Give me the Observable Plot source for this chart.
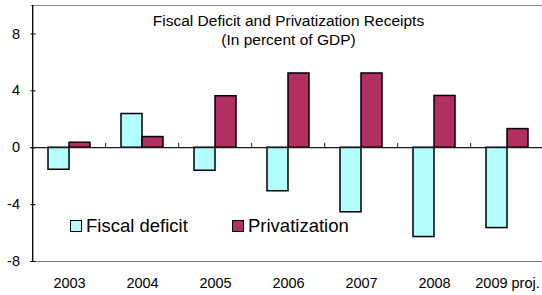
<!DOCTYPE html>
<html>
<head>
<meta charset="utf-8">
<script src="https://cdn.jsdelivr.net/npm/d3@7"></script>
<script src="https://cdn.jsdelivr.net/npm/@observablehq/plot@0.6"></script>
<style>
  html, body { margin: 0; padding: 0; background: #fff; }
  #wrap { position: relative; width: 542px; height: 295px; font-family: "Liberation Sans", Arial, sans-serif; color: #000; overflow: hidden; }
  #title { position: absolute; left: 0; width: 577px; top: 10.6px; text-align: center; font-size: 15.5px; line-height: 19.5px; white-space: nowrap; }
  #title div { display: block; }
  .leg { position: absolute; font-size: 18.5px; line-height: 22px; white-space: nowrap; }
  .sw { position: absolute; width: 10px; height: 10px; border: 1.5px solid #000; }
</style>
</head>
<body>
<div id="wrap">
  <div id="chart"></div>
  <div id="title"></div>
  <div id="legend"></div>
</div>
<script>
const years = ["2003", "2004", "2005", "2006", "2007", "2008", "2009 proj."];
const fiscalDeficit = [-1.55, 2.37, -1.62, -3.06, -4.54, -6.28, -5.65];
const privatization = [0.35, 0.75, 3.62, 5.22, 5.22, 3.64, 1.31];
const seriesNames = ["Fiscal deficit", "Privatization"];
const seriesColors = ["#b3ffff", "#b22f62"];
const yTicks = [-8, -4, 0, 4, 8];
const titleLines = ["Fiscal Deficit and Privatization Receipts", "(In percent of GDP)"];

const fiscalRows = years.map((year, i) => ({year, value: fiscalDeficit[i]}));
const privRows = years.map((year, i) => ({year, value: privatization[i]}));

const W = 542, H = 295;
const xRange = [30.5, 546];
const step = (xRange[1] - xRange[0]) / years.length;
const font = "14.5px";

const chart = Plot.plot({
  width: W, height: H,
  marginLeft: 30.5, marginRight: 0, marginTop: 5, marginBottom: 34,
  style: {fontFamily: "'Liberation Sans', Arial, sans-serif", fontSize: font, color: "#000", background: "#fff", overflow: "visible"},
  x: {domain: years, range: xRange, paddingInner: 0.43, paddingOuter: 0.215, align: 0.5, label: null},
  y: {domain: [-8, 10], label: null},
  marks: [
    Plot.ruleY([10], {stroke: "#8c8c8c", strokeWidth: 1.2}),
    Plot.ruleY([-8], {stroke: "#7a7a7a", strokeWidth: 1.2}),
    Plot.barY(fiscalRows, {x: "year", y: "value", fill: seriesColors[0], stroke: "#000", strokeWidth: 1.5, insetRight: 21}),
    Plot.barY(privRows, {x: "year", y: "value", fill: seriesColors[1], stroke: "#000", strokeWidth: 1.5, insetLeft: 21}),
    Plot.ruleY([0], {stroke: "#1a1a1a", strokeWidth: 1.2}),
    Plot.ruleX(years.slice(1), {y1: 0, y2: 0.3, dx: -step / 2, stroke: "#1a1a1a", strokeWidth: 1}),
    Plot.ruleX([years[0]], {y1: -8, y2: 10, dx: -step / 2, stroke: "#000", strokeWidth: 1.3}),
    Plot.axisY({ticks: yTicks, tickSize: 0, tickPadding: 11, fontSize: font, tickFormat: d => String(d), label: null}),
    Plot.axisY({ticks: yTicks, tickSize: -5, tickFormat: () => "", stroke: "#000", strokeWidth: 1, label: null}),
    Plot.axisX({tickSize: 0, tickPadding: 16, fontSize: font, label: null})
  ]
});
document.getElementById("chart").appendChild(chart);

const t = document.getElementById("title");
titleLines.forEach(s => { const d = document.createElement("div"); d.textContent = s; t.appendChild(d); });

const leg = document.getElementById("legend");
const legPos = [{box: 70, text: 86}, {box: 232, text: 248}];
seriesNames.forEach((name, i) => {
  const sw = document.createElement("div");
  sw.className = "sw";
  sw.style.left = legPos[i].box + "px";
  sw.style.top = "220px";
  sw.style.background = seriesColors[i];
  leg.appendChild(sw);
  const tx = document.createElement("div");
  tx.className = "leg";
  tx.style.left = legPos[i].text + "px";
  tx.style.top = "215px";
  tx.textContent = name;
  leg.appendChild(tx);
});
</script>
</body>
</html>
